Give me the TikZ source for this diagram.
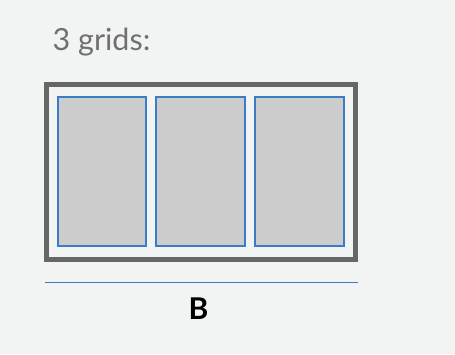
\documentclass[tikz,border=0pt]{standalone}
\usepackage{fontspec}
\setmainfont{Lato}
\definecolor{bg}{HTML}{F2F4F3}
\definecolor{frame}{HTML}{666666}
\definecolor{cell}{HTML}{CBCCCB}
\definecolor{edge}{HTML}{3A7DC4}
\definecolor{txt}{HTML}{707070}
\begin{document}
\begin{tikzpicture}[x=1pt,y=-1pt,
  outer/.style={draw=frame,line width=5pt},
  gridcell/.style={draw=edge,fill=cell,line width=2pt},
  baseline/.style={draw=edge,line width=1pt},
  title/.style={text=txt,font=\fontsize{30.5}{33}\selectfont,anchor=base west,inner sep=0pt},
  blabel/.style={text=black,font=\bfseries\fontsize{30}{33}\selectfont,anchor=base,inner sep=0pt}]
\fill[bg] (0,0) rectangle (455,354);
\useasboundingbox (0,0) rectangle (455,354);
\node[title] (t) at (52.5,50) {3 grids:};
\draw[outer] (46.5,84.2) rectangle (355.2,259.8);
\draw[gridcell] (58,97) rectangle (146,246);
\draw[gridcell] (156,97) rectangle (245,246);
\draw[gridcell] (255,97) rectangle (344,246);
\coordinate (l1) at (45,282.7);
\coordinate (l2) at (357.5,282.7);
\draw[baseline] (l1) -- (l2);
\node[blabel] (b) at (198.5,319.3) {B};
\end{tikzpicture}
\end{document}
